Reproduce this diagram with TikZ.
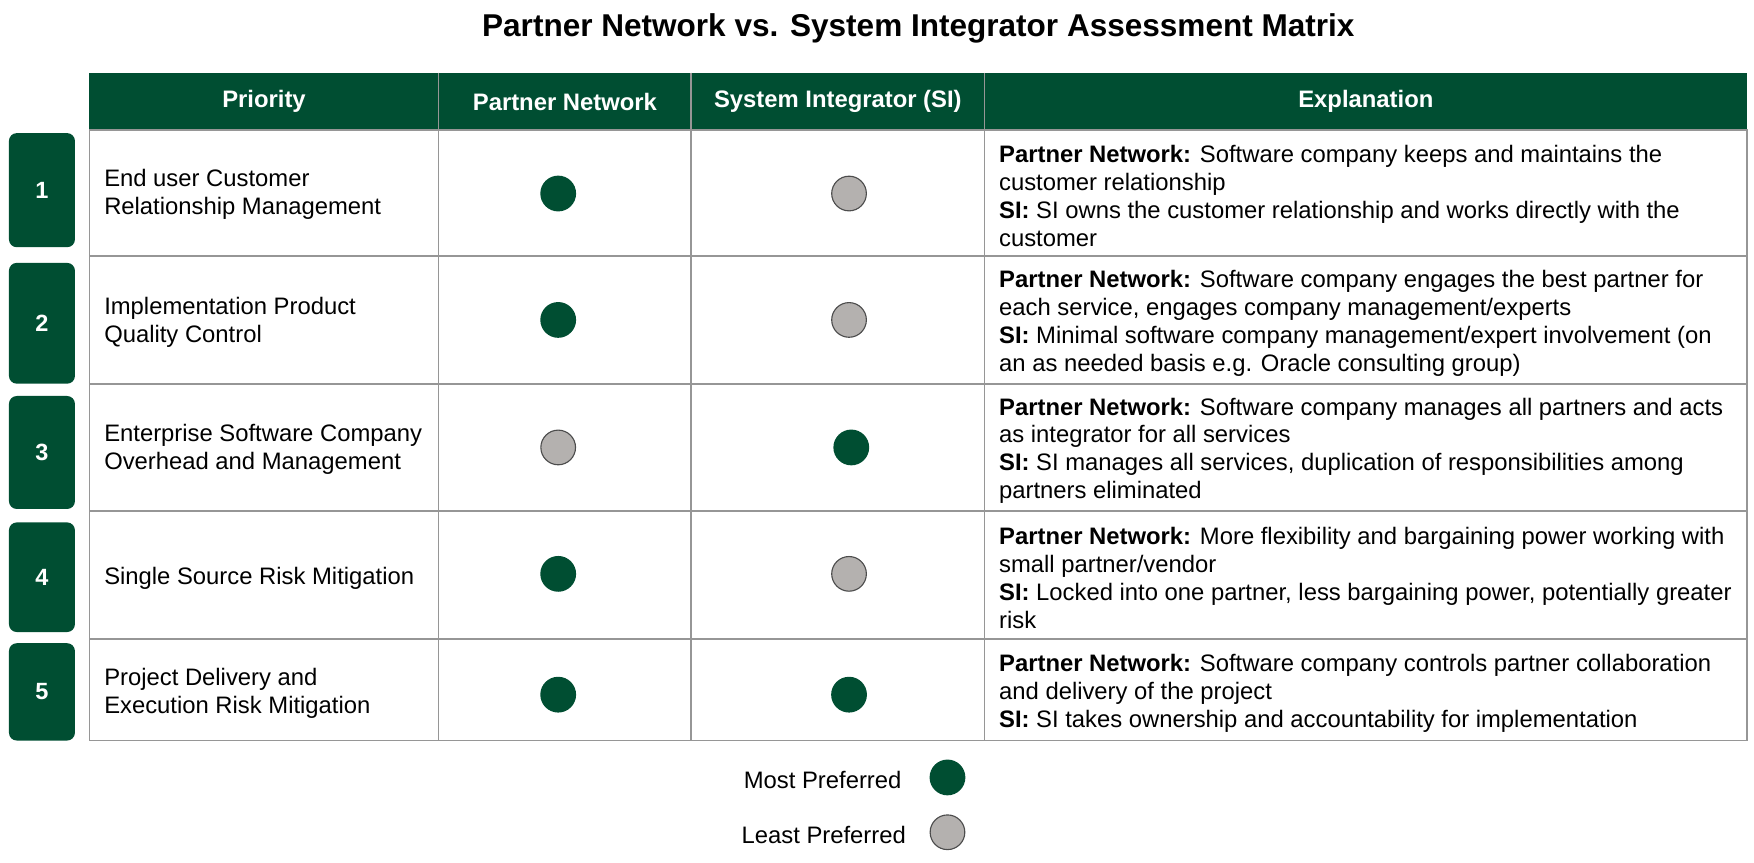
\documentclass[tikz,border=0pt]{standalone}
\usepackage{fontspec}
\setmainfont{Liberation Sans}
\definecolor{dg}{RGB}{0,78,50}
\definecolor{lg}{RGB}{180,177,175}
\definecolor{bd}{RGB}{150,150,150}
\begin{document}
\begin{tikzpicture}[x=1pt,y=-1pt,
  cell/.style={font=\fontsize{21.3}{25}\selectfont,align=left,anchor=west,inner sep=0},
  hdr/.style={text=white,font=\fontsize{21.3}{24}\selectfont\bfseries},
  best/.style={circle,fill=dg,minimum size=32pt,inner sep=0},
  least/.style={circle,fill=lg,draw=black!70,line width=1pt,minimum size=31pt,inner sep=0}]
\useasboundingbox (0,0) rectangle (1568,771);
\node (title) at (821,25) {\fontsize{28.2}{30}\selectfont\bfseries Partner Network vs. System Integrator Assessment Matrix};
\fill[dg] (80,65) rectangle (1562,116);
\draw[green!60!black,line width=1pt] (80,116) -- (1562,116);
\node[hdr] (h1) at (236,91) {Priority};
\node[hdr] (h2) at (505,91) {Partner Network};
\node[hdr] (h3) at (749,91) {System Integrator (SI)};
\node[hdr] (h4) at (1221,91) {Explanation};
\draw[bd,line width=1.5pt] (80,116) rectangle (1562,662);
\foreach \y in {229,343,457,571} \draw[bd,line width=1.5pt] (80,\y) -- (1562,\y);
\foreach \x in {392,618,880} \draw[bd,line width=1.5pt] (\x,65) -- (\x,662);
\foreach \n/\a/\b in {1/119/221,2/235/343,3/354/455,4/467/565,5/575/662}{
  \fill[dg,rounded corners=7pt] (8,\a) rectangle (67,\b);
  \node[text=white,font=\fontsize{21}{24}\selectfont\bfseries] (n\n) at (37.5,{(\a+\b)/2}) {\n};
}
\node[cell] (p1) at (93,174) {End user Customer\\Relationship Management};
\node[cell] (p2) at (93,288) {Implementation Product\\Quality Control};
\node[cell] (p3) at (93,402) {Enterprise Software Company\\Overhead and Management};
\node[cell] (p4) at (93,517) {Single Source Risk Mitigation};
\node[cell] (p5) at (93,620) {Project Delivery and\\Execution Risk Mitigation};
\node[best] (a1) at (499,173) {}; \node[least] (b1) at (759,173) {};
\node[best] (a2) at (499,286) {}; \node[least] (b2) at (759,286) {};
\node[least] (a3) at (499,400) {}; \node[best] (b3) at (761,400) {};
\node[best] (a4) at (499,513) {}; \node[least] (b4) at (759,513) {};
\node[best] (a5) at (499,621) {}; \node[best] (b5) at (759,621) {};
\node[cell] (e1) at (893,175) {\textbf{Partner Network:} Software company keeps and maintains the\\customer relationship\\\textbf{SI:} SI owns the customer relationship and works directly with the\\customer};
\node[cell] (e2) at (893,289) {\textbf{Partner Network:} Software company engages the best partner for\\each service, engages company management/experts\\\textbf{SI:} Minimal software company management/expert involvement (on\\an as needed basis e.g. Oracle consulting group)};
\node[cell] (e3) at (893,403) {\textbf{Partner Network:} Software company manages all partners and acts\\as integrator for all services\\\textbf{SI:} SI manages all services, duplication of responsibilities among\\partners eliminated};
\node[cell] (e4) at (893,517) {\textbf{Partner Network:} More flexibility and bargaining power working with\\small partner/vendor\\\textbf{SI:} Locked into one partner, less bargaining power, potentially greater\\risk};
\node[cell] (e5) at (893,620) {\textbf{Partner Network:} Software company controls partner collaboration\\and delivery of the project\\\textbf{SI:} SI takes ownership and accountability for implementation};
\node[cell,anchor=east] (lm) at (806,697) {Most Preferred};
\node[best] (cm) at (847,695) {};
\node[cell,anchor=east] (ll) at (810,746) {Least Preferred};
\node[least] (cl) at (847,744) {};
\end{tikzpicture}
\end{document}
